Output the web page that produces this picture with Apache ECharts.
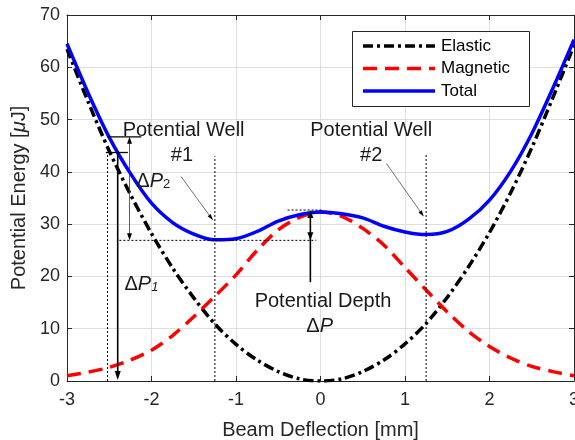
<!DOCTYPE html>
<html>
<head>
<meta charset="utf-8">
<script src="https://cdn.jsdelivr.net/npm/echarts@6/dist/echarts.min.js"></script>
<style>
  html, body { margin: 0; padding: 0; background: #fff; }
  #chart { width: 575px; height: 440px; }
</style>
</head>
<body>
<div id="chart"></div>
<script>
// Beam deflection samples [mm]
const deflection = [-3, -2.75, -2.5, -2.25, -2, -1.75, -1.5, -1.25, -1, -0.75, -0.5, -0.25,
                    0, 0.25, 0.5, 0.75, 1, 1.25, 1.5, 1.75, 2, 2.25, 2.5, 2.75, 3];
// Potential energy components [uJ]
const elastic  = [63.5, 53.4, 44.0, 35.7, 28.2, 21.6, 15.9, 10.9, 7.0, 4.0, 1.8, 0.4,
                  0.0, 0.4, 1.8, 4.0, 7.1, 11.0, 16.0, 21.8, 28.4, 36.0, 44.6, 54.2, 64.2];
const magnetic = [1.0, 1.7, 2.6, 4.0, 5.9, 8.7, 12.3, 16.2, 20.3, 25.0, 28.9, 31.3,
                  32.3, 31.5, 29.2, 26.0, 21.7, 17.4, 13.2, 9.5, 6.6, 4.4, 2.8, 1.8, 1.0];
const total    = [64.5, 55.1, 46.6, 39.7, 34.0, 30.3, 28.1, 27.0, 27.2, 28.6, 30.6, 31.8,
                  32.3, 32.0, 31.2, 29.6, 28.5, 28.0, 28.6, 30.9, 34.6, 40.1, 47.3, 56.0, 65.3];
const seriesNames = ['Elastic', 'Magnetic', 'Total'];
const xTickLabels = ['-3', '-2', '-1', '0', '1', '2', '3'];
const yTickLabels = ['0', '10', '20', '30', '40', '50', '60', '70'];

const FONT = '"Liberation Sans", Arial, Helvetica, sans-serif';
const AX = '#262626';
const COLORS = ['#000000', '#ff0000', '#0000ff'];
const DASHES = [[10, 4, 3, 4], [14, 8], null];
const LINE_W = 3.5;

const chart = echarts.init(document.getElementById('chart'), null, { renderer: 'canvas' });

const pair = arr => deflection.map((x, i) => [x, arr[i]]);

function baseAxis(extra) {
  return Object.assign({
    type: 'value',
    axisLine: { show: true, onZero: false, lineStyle: { color: AX, width: 1 } },
    axisTick: { show: true, inside: true, length: 5, lineStyle: { color: AX } },
    splitLine: { show: false },
    axisLabel: { show: false }
  }, extra);
}

const xMin = Number(xTickLabels[0]), xMax = Number(xTickLabels[xTickLabels.length - 1]);
const yMin = Number(yTickLabels[0]), yMax = Number(yTickLabels[yTickLabels.length - 1]);

function curve(i, values) {
  return {
    name: seriesNames[i], type: 'line', data: pair(values),
    smooth: 0.3, symbol: 'none', z: i === 2 ? 4 : 3,
    lineStyle: { color: COLORS[i], width: LINE_W, type: DASHES[i] || 'solid' },
    itemStyle: { color: COLORS[i] }
  };
}

chart.setOption({
  animation: false,
  backgroundColor: '#fff',
  grid: { left: 67, right: 1, top: 15, bottom: 59, containLabel: false, outerBoundsMode: 'none' },
  xAxis: [
    baseAxis({
      position: 'bottom', min: xMin, max: xMax, interval: 1,
      splitLine: { show: true, lineStyle: { color: '#dedede', width: 1 } },
      axisLabel: { show: true, color: AX, fontSize: 18, fontFamily: FONT, margin: 10 },
      name: 'Beam Deflection [mm]', nameLocation: 'middle', nameGap: 39,
      nameTextStyle: { color: AX, fontSize: 20, fontFamily: FONT }
    }),
    baseAxis({ position: 'top', min: xMin, max: xMax, interval: 1 })
  ],
  yAxis: [
    baseAxis({
      position: 'left', min: yMin, max: yMax, interval: 10,
      splitLine: { show: true, lineStyle: { color: '#dedede', width: 1 } },
      axisLabel: { show: true, color: AX, fontSize: 18, fontFamily: FONT, margin: 7 },
      name: 'Potential Energy [{i|μ}J]', nameLocation: 'middle', nameGap: 28,
      nameTextStyle: {
        color: AX, fontSize: 20, fontFamily: FONT,
        rich: { i: { fontStyle: 'italic', fontSize: 20, fontFamily: FONT, color: AX } }
      }
    }),
    baseAxis({ position: 'right', min: yMin, max: yMax, interval: 10 })
  ],
  series: [curve(0, elastic), curve(1, magnetic), curve(2, total)]
});

// ---- annotations, laid out in data coordinates ----
const P = (x, y) => chart.convertToPixel({ xAxisIndex: 0, yAxisIndex: 0 }, [x, y]);
const TXT = '#1a1a1a';
const elements = [];

function seg(a, b, style) {
  const p = P(a[0], a[1]), q = P(b[0], b[1]);
  elements.push({
    type: 'line', silent: true, z: 10,
    shape: { x1: p[0], y1: p[1], x2: q[0], y2: q[1] },
    style: Object.assign({ stroke: '#000', lineWidth: 1 }, style)
  });
}
// filled arrowhead with its tip at `tip`, pointing away from `from`
function head(from, tip, len, wid) {
  const a = P(from[0], from[1]), t = P(tip[0], tip[1]);
  const dx = t[0] - a[0], dy = t[1] - a[1];
  const d = Math.hypot(dx, dy) || 1;
  const ux = dx / d, uy = dy / d;
  const bx = t[0] - ux * len, by = t[1] - uy * len;
  elements.push({
    type: 'polygon', silent: true, z: 11,
    shape: { points: [[t[0], t[1]], [bx - uy * wid / 2, by + ux * wid / 2], [bx + uy * wid / 2, by - ux * wid / 2]] },
    style: { fill: '#000' }
  });
}
function label(x, y, text, opts) {
  const p = P(x, y);
  elements.push({
    type: 'text', silent: true, z: 12, x: p[0], y: p[1],
    style: Object.assign({
      text: text, fill: TXT, fontSize: 20, fontFamily: FONT,
      align: 'center', verticalAlign: 'middle',
      rich: {
        i: { fontStyle: 'italic', fontSize: 20, fontFamily: FONT, fill: TXT },
        s: { fontSize: 13, fontFamily: FONT, fill: TXT, verticalAlign: 'bottom', lineHeight: 6 },
        si: { fontSize: 13, fontStyle: 'italic', fontFamily: FONT, fill: TXT, verticalAlign: 'bottom', lineHeight: 6 }
      }
    }, opts || {})
  });
}
const dotted = { lineDash: [2, 2], lineWidth: 1 };

// well markers
seg([-1.25, 0], [-1.25, 43.0], dotted);
seg([1.25, 0], [1.25, 43.5], dotted);
seg([-1.65, 39.1], [-1.275, 30.8], { lineWidth: 0.7, stroke: '#333' });
head([-1.65, 39.1], [-1.275, 30.8], 6, 4);
seg([0.78, 41.6], [1.22, 31.5], { lineWidth: 0.7, stroke: '#333' });
head([0.78, 41.6], [1.22, 31.5], 6, 4);

// level references
seg([-2.52, 0], [-2.52, 43.7], dotted);
seg([-2.38, 26.9], [-0.05, 26.9], dotted);
seg([-0.39, 32.7], [0.02, 32.7], dotted);
seg([-2.54, 43.7], [-2.28, 43.7], { lineWidth: 1.3 });
seg([-2.52, 46.7], [-2.12, 46.7], { lineWidth: 1.3 });

// delta P1: from the left reference level down to zero
seg([-2.40, 43.7], [-2.40, 1.5], { lineWidth: 1.6 });
head([-2.40, 43.7], [-2.40, 0.2], 9, 6);
// delta P2: between the upper reference and well #1
seg([-2.26, 45.5], [-2.26, 28.0], { lineWidth: 0.8, stroke: '#333' });
head([-2.26, 30], [-2.26, 46.7], 7, 5);
head([-2.26, 40], [-2.26, 26.9], 7, 5);
// potential depth
seg([-0.12, 18.9], [-0.12, 31.5], { lineWidth: 1.6 });
head([-0.12, 20], [-0.12, 32.7], 8, 6);
head([-0.12, 30], [-0.12, 26.9], 8, 6);

// text
label(-1.62, 48.0, 'Potential Well');
label(-1.64, 43.2, '#1');
label(0.60, 48.0, 'Potential Well');
label(0.60, 43.2, '#2');
label(-2.18, 38.2, 'Δ{i|P}{s|2}', { align: 'left' });
label(-2.32, 18.5, 'Δ{i|P}{si|1}', { align: 'left' });
label(0.03, 15.3, 'Potential Depth');
label(-0.01, 10.5, 'Δ{i|P}');

// ---- legend box (upper right, inside the axes) ----
const LEG = { x: 352, y: 31, w: 177, h: 75, sampleX: 363, sampleW: 72, textX: 441, row0: 46, rowGap: 22.5 };
elements.push({
  type: 'rect', silent: true, z: 20,
  shape: { x: LEG.x + 0.5, y: LEG.y + 0.5, width: LEG.w, height: LEG.h },
  style: { fill: '#fff', stroke: AX, lineWidth: 1 }
});
seriesNames.forEach((name, i) => {
  const yy = LEG.row0 + i * LEG.rowGap;
  elements.push({
    type: 'line', silent: true, z: 21,
    shape: { x1: LEG.sampleX, y1: yy, x2: LEG.sampleX + LEG.sampleW, y2: yy },
    style: { stroke: COLORS[i], lineWidth: LINE_W, lineDash: DASHES[i] || null }
  });
  elements.push({
    type: 'text', silent: true, z: 21, x: LEG.textX, y: yy,
    style: { text: name, fill: '#000', fontSize: 17, fontFamily: FONT, align: 'left', verticalAlign: 'middle' }
  });
});

chart.setOption({ graphic: { elements: elements } });
</script>
</body>
</html>
